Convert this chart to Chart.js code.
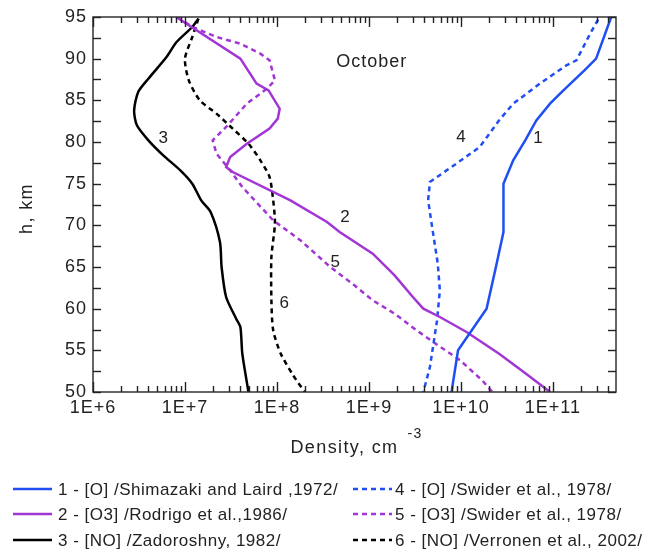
<!DOCTYPE html>
<html lang="en">
<head>
<meta charset="UTF-8">
<title>Density profiles - October</title>
<script src="https://cdn.jsdelivr.net/npm/chart.js"></script>
<style>
  html, body { margin: 0; padding: 0; background: #fff; }
  canvas { display: block; }
</style>
</head>
<body>
<canvas id="chart" width="646" height="549"></canvas>
<script>
// heights in km, densities in cm^-3
const h1 = [95, 90, 88.6, 86.2, 84.6, 82.6, 80.2, 77.8, 75, 69.2, 65, 60, 55, 50];
const n1 = [4.3e11, 2.95e11, 2.2e11, 1.3e11, 9.3e10, 6.6e10, 5.0e10, 3.7e10, 2.9e10, 2.9e10, 2.4e10, 1.9e10, 9.3e9, 7.9e9];

const h2 = [95, 90, 87, 86.2, 84, 82.8, 81.6, 79.8, 78.2, 77, 76.4, 73, 70.4, 69.2, 66.6, 64, 61.4, 60, 59, 57.2, 54.6, 52.2, 50];
const n2 = [8.0e6, 4.0e7, 6.0e7, 8.1e7, 1.07e8, 1.02e8, 8.3e7, 4.7e7, 3.1e7, 2.8e7, 3.3e7, 1.4e8, 3.5e8, 4.8e8, 1.1e9, 1.9e9, 3.0e9, 3.9e9, 5.9e9, 1.15e10, 2.6e10, 5.1e10, 9.3e10];

const h3 = [94.8, 93.8, 92, 90.2, 87.6, 86, 83.8, 82, 80.2, 78.4, 76.6, 75, 73, 71.6, 68, 65, 61.4, 58.8, 57.8, 54.6, 50];
const n3 = [1.4e7, 1.2e7, 8.1e6, 6.3e6, 4.0e6, 3.1e6, 2.8e6, 3.0e6, 4.0e6, 5.8e6, 8.9e6, 1.2e7, 1.5e7, 1.9e7, 2.4e7, 2.5e7, 2.8e7, 3.6e7, 4.0e7, 4.2e7, 4.9e7];

const h4 = [94.7, 93.2, 89.8, 89.2, 87, 84.6, 82.6, 79.4, 77.4, 75.2, 73, 70.2, 65.4, 62.2, 58.6, 53, 50];
const n4 = [3.1e11, 2.6e11, 1.8e11, 1.4e11, 7.2e10, 3.7e10, 2.6e10, 1.6e10, 8.9e9, 4.6e9, 4.4e9, 4.8e9, 5.6e9, 5.9e9, 5.5e9, 4.6e9, 3.9e9];

const h5 = [95, 93.8, 92.6, 91.8, 90.6, 89.8, 87.4, 86.4, 84.6, 81.8, 80.2, 78.6, 76.6, 74.6, 70.6, 68.2, 65, 63, 61, 59.4, 57.4, 56, 53.8, 51.4, 50];
const n5 = [8.3e6, 1.2e7, 2.2e7, 4.0e7, 6.6e7, 8.3e7, 9.5e7, 7.8e7, 4.7e7, 2.8e7, 2.0e7, 2.2e7, 3.1e7, 4.2e7, 9.1e7, 1.8e8, 3.8e8, 6.6e8, 1.1e9, 1.9e9, 3.3e9, 5.0e9, 9.8e9, 1.7e10, 2.2e10];

const h6 = [94.8, 92.6, 90, 87.4, 85, 83.4, 81.6, 79.8, 77.8, 75.8, 73, 70.2, 66.2, 61, 57.4, 54.6, 52, 50];
const n6 = [1.4e7, 1.2e7, 1.0e7, 1.1e7, 1.45e7, 2.2e7, 3.3e7, 4.9e7, 6.6e7, 8.3e7, 9.1e7, 9.5e7, 8.7e7, 8.7e7, 9.1e7, 1.1e8, 1.5e8, 2.0e8];

const seriesNames = [
  '1 - [O] /Shimazaki and Laird ,1972/',
  '2 - [O3] /Rodrigo et al.,1986/',
  '3 - [NO] /Zadoroshny, 1982/',
  '4 - [O] /Swider et al., 1978/',
  '5 - [O3] /Swider et al., 1978/',
  '6 - [NO] /Verronen et al., 2002/'
];

// axis ticks
const decades = [1e6, 1e7, 1e8, 1e9, 1e10, 1e11];
const xTickLabels = ['1E+6', '1E+7', '1E+8', '1E+9', '1E+10', '1E+11'];
const yTicks = [50, 52.5, 55, 57.5, 60, 62.5, 65, 67.5, 70, 72.5, 75, 77.5, 80, 82.5, 85, 87.5, 90, 92.5, 95];
const xMin = 1e6, xMax = 4.85e11;

// curve number labels (density, height) and the month
const curveLabels = ['1', '2', '3', '4', '5', '6'];
const labelN = [6.9e10, 5.5e8, 5.8e6, 1.0e10, 4.3e8, 1.2e8];
const labelH = [80.4, 71.0, 80.4, 80.6, 65.6, 60.7];
const monthText = 'October';
const monthN = 1.07e9, monthH = 89.6;

const BLUE = '#1f4ef2';
const PURPLE = '#a236d4';
const BLACK = '#000000';

function profile(n, h) {
  return n.map((v, i) => ({ x: v, y: h[i] }));
}

const xTickValues = [];
decades.forEach(d => {
  for (let m = 1; m <= 9; m++) {
    if (d * m <= xMax) xTickValues.push(d * m);
  }
});

function decadeLabel(v) {
  const i = decades.findIndex(d => Math.abs(v / d - 1) < 1e-9);
  return i >= 0 ? xTickLabels[i] : '';
}

function line(data, color, dashed, tension) {
  return {
    data: data,
    borderColor: color,
    borderWidth: 2.5,
    borderDash: dashed ? [5, 4] : [],
    pointRadius: 0,
    showLine: true,
    fill: false,
    tension: tension || 0
  };
}

const datasets = [
  line(profile(n1, h1), BLUE, false),
  line(profile(n2, h2), PURPLE, false),
  line(profile(n3, h3), BLACK, false, 0.25),
  line(profile(n4, h4), BLUE, true),
  line(profile(n5, h5), PURPLE, true),
  line(profile(n6, h6), BLACK, true, 0.25)
];
const legendColors = [BLUE, PURPLE, BLACK, BLUE, PURPLE, BLACK];

const decor = {
  id: 'decor',
  beforeDraw(chart) {
    chart.ctx.letterSpacing = '1px';
  },
  afterDraw(chart) {
    const ctx = chart.ctx;
    const a = chart.chartArea;
    const x = chart.scales.x, y = chart.scales.y;
    ctx.save();
    ctx.setLineDash([]);
    ctx.globalAlpha = 1;

    // frame
    ctx.strokeStyle = '#333';
    ctx.lineWidth = 1.5;
    ctx.strokeRect(a.left, a.top, a.right - a.left, a.bottom - a.top);

    // inward ticks, one stroke each
    ctx.strokeStyle = '#222';
    ctx.lineWidth = 1.4;
    const tick = (x0, y0, x1, y1) => {
      ctx.beginPath();
      ctx.moveTo(x0, y0);
      ctx.lineTo(x1, y1);
      ctx.stroke();
    };
    xTickValues.forEach(v => {
      const px = Math.round(x.getPixelForValue(v)) + 0.5;
      const len = decadeLabel(v) ? 10 : 6;
      tick(px, a.bottom, px, a.bottom - len);
      tick(px, a.top, px, a.top + len);
    });
    yTicks.forEach(v => {
      const py = Math.round(y.getPixelForValue(v)) + 0.5;
      tick(a.left, py, a.left + 8, py);
      tick(a.right, py, a.right - 8, py);
    });

    ctx.fillStyle = '#222';
    ctx.textAlign = 'center';
    ctx.textBaseline = 'middle';

    // curve numbers and month
    ctx.letterSpacing = '0px';
    ctx.font = '17px "Liberation Sans", Arial, sans-serif';
    curveLabels.forEach((s, i) => {
      ctx.fillText(s, x.getPixelForValue(labelN[i]), y.getPixelForValue(labelH[i]));
    });
    ctx.letterSpacing = '1px';
    ctx.font = '18px "Liberation Sans", Arial, sans-serif';
    ctx.fillText(monthText, x.getPixelForValue(monthN), y.getPixelForValue(monthH));

    // axis titles
    const cx = (a.left + a.right) / 2;
    ctx.letterSpacing = '1.4px';
    ctx.textAlign = 'right';
    ctx.fillText('Density, cm', cx + 44, 448);
    ctx.font = '14px "Liberation Sans", Arial, sans-serif';
    ctx.textAlign = 'left';
    ctx.fillText('-3', cx + 53, 434);

    ctx.save();
    ctx.translate(27, (a.top + a.bottom) / 2 + 4);
    ctx.rotate(-Math.PI / 2);
    ctx.textAlign = 'center';
    ctx.font = '18px "Liberation Sans", Arial, sans-serif';
    ctx.fillText('h, km', 0, 0);
    ctx.restore();

    // legend, two columns of three rows
    const rowY = [489, 514, 540];
    const cols = [{ x0: 13, x1: 52, tx: 58 }, { x0: 353, x1: 392, tx: 395 }];
    ctx.font = '17px "Liberation Sans", Arial, sans-serif';
    ctx.letterSpacing = '0.5px';
    ctx.textAlign = 'left';
    seriesNames.forEach((s, i) => {
      const c = cols[Math.floor(i / 3)];
      const yy = rowY[i % 3];
      ctx.strokeStyle = legendColors[i];
      ctx.lineWidth = 2.5;
      ctx.setLineDash(i >= 3 ? [5, 4] : []);
      ctx.beginPath();
      ctx.moveTo(c.x0, yy); ctx.lineTo(c.x1, yy);
      ctx.stroke();
      ctx.setLineDash([]);
      ctx.fillStyle = '#222';
      ctx.fillText(s, c.tx, yy + 1);
    });
    ctx.restore();
  }
};

new Chart(document.getElementById('chart'), {
  type: 'scatter',
  data: { datasets: datasets },
  options: {
    responsive: false,
    devicePixelRatio: 1,
    animation: false,
    layout: { padding: { top: 17, right: 30, left: 0, bottom: 0 } },
    plugins: { legend: { display: false }, tooltip: { enabled: false } },
    scales: {
      x: {
        type: 'logarithmic',
        min: xMin,
        max: xMax,
        grid: { display: false, drawTicks: false },
        border: { display: false },
        afterBuildTicks: s => { s.ticks = xTickValues.map(v => ({ value: v })); },
        afterFit: s => { s.height = 157; },
        ticks: {
          autoSkip: false,
          maxRotation: 0,
          padding: 5,
          color: '#222',
          font: { size: 18, family: '"Liberation Sans", Arial, sans-serif' },
          callback: v => decadeLabel(v)
        }
      },
      y: {
        type: 'linear',
        min: 50,
        max: 95,
        grid: { display: false, drawTicks: false },
        border: { display: false },
        afterBuildTicks: s => { s.ticks = yTicks.map(v => ({ value: v })); },
        afterFit: s => { s.width = 93; },
        ticks: {
          autoSkip: false,
          padding: 6,
          color: '#222',
          font: { size: 18, family: '"Liberation Sans", Arial, sans-serif' },
          callback: v => (v % 5 === 0 ? String(v) : '')
        }
      }
    }
  },
  plugins: [decor]
});
</script>
</body>
</html>
